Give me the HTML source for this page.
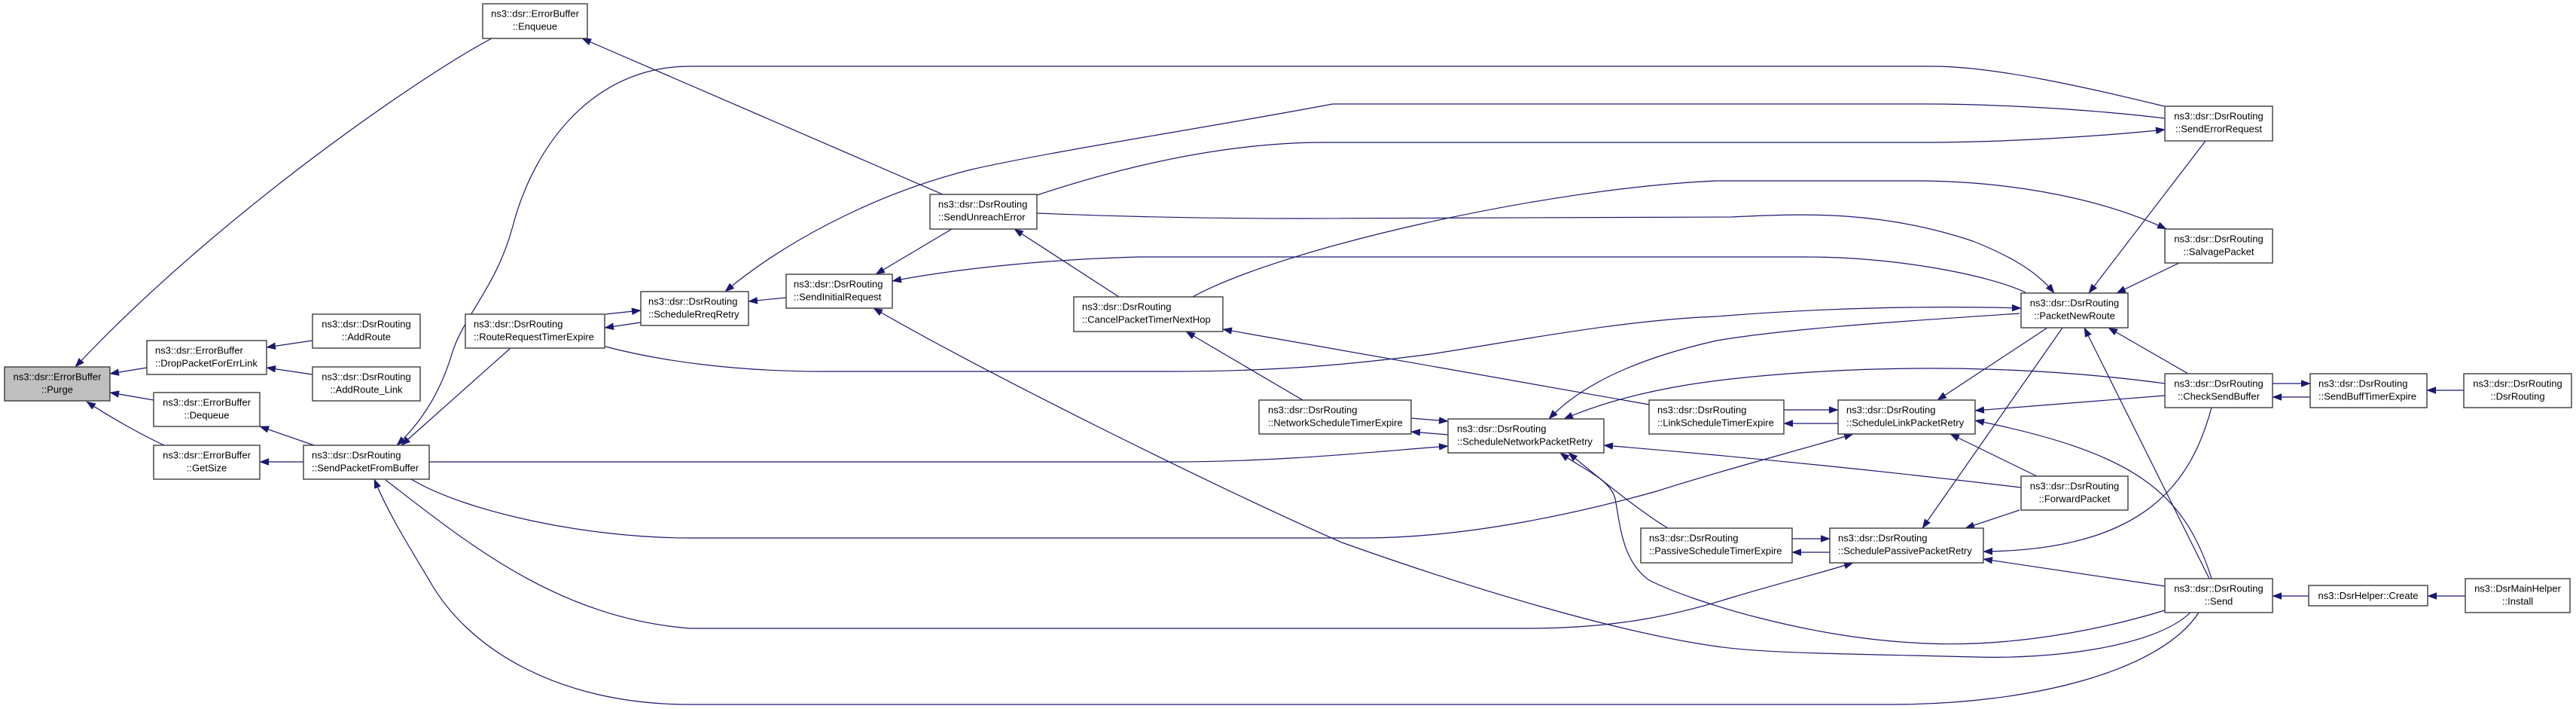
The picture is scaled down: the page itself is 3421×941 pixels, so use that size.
<!DOCTYPE html>
<html>
<head>
<meta charset="utf-8">
<style>
  html, body { margin: 0; padding: 0; background: #ffffff; }
  body { width: 3421px; height: 941px; overflow: hidden; }
  svg { display: block; }
  .n { fill: #ffffff; stroke: #3c3c3c; stroke-width: 1.4; }
  .g { fill: #bfbfbf; stroke: #3c3c3c; stroke-width: 1.4; }
  .e { fill: none; stroke: #191970; stroke-width: 1.2; marker-end: url(#ah); }
  text { font-family: "Liberation Sans", Arial, sans-serif; font-size: 13px; fill: #000; }
  .c { text-anchor: middle; }
  .l { text-anchor: start; }
</style>
</head>
<body>
<svg width="3421" height="941" viewBox="0 0 3421 941" xmlns="http://www.w3.org/2000/svg">
  <defs>
    <marker id="ah" markerUnits="userSpaceOnUse" markerWidth="13" markerHeight="10" refX="12" refY="4.5" orient="auto">
      <path d="M0,0 L12,4.5 L0,9 z" fill="#191970" stroke="#191970" stroke-width="0.5"/>
    </marker>
  </defs>

  <!-- edges -->
  <path class="e" d="M653,51 C560,100 290,285 100,487"/>
  <path class="e" d="M1252,258 L773,51"/>
  <path class="e" d="M195,488 L146,496"/>
  <path class="e" d="M204,531 L146,521"/>
  <path class="e" d="M218,591 C190,578 150,556 115,533"/>
  <path class="e" d="M415,452 L354,461"/>
  <path class="e" d="M415,497 L354,488"/>
  <path class="e" d="M417,591 L345,566"/>
  <path class="e" d="M403,613 L345,613"/>
  <path class="e" d="M2874,141 C2780,118 2650,88 2567,88 L916,88 C790,88 710,190 681,300 C660,380 615,420 600,470 C585,520 560,560 527,591"/>
  <path class="e" d="M2875,157 C2750,142 2620,138 2556,138 L1770,138 C1600,170 1400,200 1290,225 C1150,260 1030,330 963,387"/>
  <path class="e" d="M1377,259 C1480,225 1620,189 1760,189 L2556,189 C2650,189 2780,182 2875,172"/>
  <path class="e" d="M1584,394 C1700,330 2050,250 2280,240 L2544,240 C2650,240 2780,258 2877,304"/>
  <path class="e" d="M1377,283 C1500,288 1600,290 1724,290 L2300,288 C2400,283 2500,280 2620,320 C2670,340 2705,360 2728,389"/>
  <path class="e" d="M2690,388 C2640,365 2520,341 2395,341 L1512,341 C1400,344 1280,355 1185,373"/>
  <path class="e" d="M1486,394 L1347,304"/>
  <path class="e" d="M1264,304 L1163,364"/>
  <path class="e" d="M1044,395 L994,400"/>
  <path class="e" d="M804,417 L851,412"/>
  <path class="e" d="M851,428 L803,435"/>
  <path class="e" d="M678,462 L533,591"/>
  <path class="e" d="M804,460 C880,480 980,493 1094,493 L1552,493 C1700,493 1800,483 1900,470 C2000,455 2150,425 2280,420 C2400,410 2550,405 2684,409"/>
  <path class="e" d="M2682,416 C2550,425 2380,435 2280,452 C2200,470 2110,500 2057,556"/>
  <path class="e" d="M2875,509 C2720,488 2560,485 2420,493 C2300,500 2180,512 2077,556"/>
  <path class="e" d="M1874,555 L1923,559"/>
  <path class="e" d="M1923,577 L1874,573"/>
  <path class="e" d="M570,613 L1552,613 C1700,613 1820,600 1923,592"/>
  <path class="e" d="M2190,537 L1624,437"/>
  <path class="e" d="M1730,531 L1575,440"/>
  <path class="e" d="M2369,544 L2441,544"/>
  <path class="e" d="M2441,562 L2369,562"/>
  <path class="e" d="M2719,435 L2573,531"/>
  <path class="e" d="M2739,435 L2553,701"/>
  <path class="e" d="M2934,768 L2768,435"/>
  <path class="e" d="M2906,496 L2800,435"/>
  <path class="e" d="M2929,187 L2774,389"/>
  <path class="e" d="M2894,349 L2811,389"/>
  <path class="e" d="M2875,525 L2623,545"/>
  <path class="e" d="M3018,509 L3068,509"/>
  <path class="e" d="M3068,527 L3018,527"/>
  <path class="e" d="M3272,518 L3223,518"/>
  <path class="e" d="M2937,768 C2900,650 2830,600 2623,558"/>
  <path class="e" d="M2684,647 C2500,625 2300,605 2130,591"/>
  <path class="e" d="M2705,632 L2590,576"/>
  <path class="e" d="M546,636 C620,680 780,714 916,714 L1810,714 C1950,714 2100,680 2200,652 C2300,620 2400,595 2461,576"/>
  <path class="e" d="M2682,677 L2610,701"/>
  <path class="e" d="M2937,541 C2910,640 2850,730 2634,732"/>
  <path class="e" d="M2380,715 L2430,715"/>
  <path class="e" d="M2430,733 L2380,733"/>
  <path class="e" d="M2875,778 L2634,742"/>
  <path class="e" d="M512,637 C620,720 740,820 916,834 L2029,834 C2150,834 2230,815 2300,793 C2370,772 2420,760 2461,747"/>
  <path class="e" d="M2875,810 C2760,845 2640,860 2540,853 C2400,845 2250,800 2190,770 C2155,745 2152,700 2145,662 C2138,635 2100,622 2072,601"/>
  <path class="e" d="M2215,701 C2180,680 2130,640 2083,601"/>
  <path class="e" d="M2909,813 C2860,860 2720,875 2624,872 C2480,868 2350,868 2280,858 C2150,840 1950,780 1782,720 C1600,640 1300,490 1160,409"/>
  <path class="e" d="M2920,813 C2870,890 2700,935 2510,935 L916,935 C740,935 620,860 570,770 C540,720 515,680 497,636"/>
  <path class="e" d="M3066,791 L3018,791"/>
  <path class="e" d="M3274,791 L3224,791"/>

  <!-- nodes -->
  <rect class="g" x="6" y="487" width="140" height="45"/>
  <text class="c" x="76" y="504.5">ns3::dsr::ErrorBuffer</text>
  <text class="c" x="76" y="521.5">::Purge</text>

  <rect class="n" x="641" y="5" width="139" height="46"/>
  <text class="c" x="710.5" y="22.5">ns3::dsr::ErrorBuffer</text>
  <text class="c" x="710.5" y="39.5">::Enqueue</text>

  <rect class="n" x="195" y="452" width="159" height="45"/>
  <text class="l" x="206" y="469.5">ns3::dsr::ErrorBuffer</text>
  <text class="l" x="206" y="486.5">::DropPacketForErrLink</text>

  <rect class="n" x="204" y="521" width="141" height="45"/>
  <text class="c" x="274.5" y="538.5">ns3::dsr::ErrorBuffer</text>
  <text class="c" x="274.5" y="555.5">::Dequeue</text>

  <rect class="n" x="204" y="591" width="141" height="45"/>
  <text class="c" x="274.5" y="608.5">ns3::dsr::ErrorBuffer</text>
  <text class="c" x="274.5" y="625.5">::GetSize</text>

  <rect class="n" x="415" y="417" width="143" height="45"/>
  <text class="c" x="486.5" y="434.5">ns3::dsr::DsrRouting</text>
  <text class="c" x="486.5" y="451.5">::AddRoute</text>

  <rect class="n" x="415" y="487" width="143" height="45"/>
  <text class="c" x="486.5" y="504.5">ns3::dsr::DsrRouting</text>
  <text class="c" x="486.5" y="521.5">::AddRoute_Link</text>

  <rect class="n" x="403" y="591" width="167" height="45"/>
  <text class="l" x="414" y="608.5">ns3::dsr::DsrRouting</text>
  <text class="l" x="414" y="625.5">::SendPacketFromBuffer</text>

  <rect class="n" x="618" y="417" width="185" height="45"/>
  <text class="l" x="629" y="434.5">ns3::dsr::DsrRouting</text>
  <text class="l" x="629" y="451.5">::RouteRequestTimerExpire</text>

  <rect class="n" x="851" y="387" width="143" height="45"/>
  <text class="l" x="861" y="404.5">ns3::dsr::DsrRouting</text>
  <text class="l" x="861" y="421.5">::ScheduleRreqRetry</text>

  <rect class="n" x="1044" y="364" width="141" height="45"/>
  <text class="l" x="1054" y="381.5">ns3::dsr::DsrRouting</text>
  <text class="l" x="1054" y="398.5">::SendInitialRequest</text>

  <rect class="n" x="1235" y="258" width="142" height="46"/>
  <text class="l" x="1246" y="275.5">ns3::dsr::DsrRouting</text>
  <text class="l" x="1246" y="292.5">::SendUnreachError</text>

  <rect class="n" x="1426" y="394" width="198" height="46"/>
  <text class="l" x="1437" y="411.5">ns3::dsr::DsrRouting</text>
  <text class="l" x="1437" y="428.5">::CancelPacketTimerNextHop</text>

  <rect class="n" x="1672" y="531" width="202" height="45"/>
  <text class="l" x="1684" y="548.5">ns3::dsr::DsrRouting</text>
  <text class="l" x="1684" y="565.5">::NetworkScheduleTimerExpire</text>

  <rect class="n" x="1923" y="556" width="207" height="45"/>
  <text class="l" x="1935" y="573.5">ns3::dsr::DsrRouting</text>
  <text class="l" x="1935" y="590.5">::ScheduleNetworkPacketRetry</text>

  <rect class="n" x="2190" y="531" width="179" height="45"/>
  <text class="l" x="2201" y="548.5">ns3::dsr::DsrRouting</text>
  <text class="l" x="2201" y="565.5">::LinkScheduleTimerExpire</text>

  <rect class="n" x="2179" y="701" width="201" height="46"/>
  <text class="l" x="2190" y="718.5">ns3::dsr::DsrRouting</text>
  <text class="l" x="2190" y="735.5">::PassiveScheduleTimerExpire</text>

  <rect class="n" x="2441" y="531" width="182" height="45"/>
  <text class="l" x="2452" y="548.5">ns3::dsr::DsrRouting</text>
  <text class="l" x="2452" y="565.5">::ScheduleLinkPacketRetry</text>

  <rect class="n" x="2430" y="701" width="204" height="46"/>
  <text class="l" x="2441" y="718.5">ns3::dsr::DsrRouting</text>
  <text class="l" x="2441" y="735.5">::SchedulePassivePacketRetry</text>

  <rect class="n" x="2684" y="389" width="142" height="46"/>
  <text class="c" x="2755" y="406.5">ns3::dsr::DsrRouting</text>
  <text class="c" x="2755" y="423.5">::PacketNewRoute</text>

  <rect class="n" x="2875" y="141" width="143" height="46"/>
  <text class="c" x="2946.5" y="158.5">ns3::dsr::DsrRouting</text>
  <text class="c" x="2946.5" y="175.5">::SendErrorRequest</text>

  <rect class="n" x="2875" y="304" width="143" height="45"/>
  <text class="c" x="2946.5" y="321.5">ns3::dsr::DsrRouting</text>
  <text class="c" x="2946.5" y="338.5">::SalvagePacket</text>

  <rect class="n" x="2875" y="496" width="143" height="45"/>
  <text class="c" x="2946.5" y="513.5">ns3::dsr::DsrRouting</text>
  <text class="c" x="2946.5" y="530.5">::CheckSendBuffer</text>

  <rect class="n" x="2684" y="632" width="142" height="45"/>
  <text class="c" x="2755" y="649.5">ns3::dsr::DsrRouting</text>
  <text class="c" x="2755" y="666.5">::ForwardPacket</text>

  <rect class="n" x="2875" y="768" width="143" height="45"/>
  <text class="c" x="2946.5" y="785.5">ns3::dsr::DsrRouting</text>
  <text class="c" x="2946.5" y="802.5">::Send</text>

  <rect class="n" x="3068" y="496" width="155" height="45"/>
  <text class="l" x="3079" y="513.5">ns3::dsr::DsrRouting</text>
  <text class="l" x="3079" y="530.5">::SendBuffTimerExpire</text>

  <rect class="n" x="3272" y="496" width="143" height="45"/>
  <text class="c" x="3343.5" y="513.5">ns3::dsr::DsrRouting</text>
  <text class="c" x="3343.5" y="530.5">::DsrRouting</text>

  <rect class="n" x="3066" y="777" width="158" height="27"/>
  <text class="c" x="3145" y="795">ns3::DsrHelper::Create</text>

  <rect class="n" x="3274" y="768" width="139" height="45"/>
  <text class="c" x="3343.5" y="785.5">ns3::DsrMainHelper</text>
  <text class="c" x="3343.5" y="802.5">::Install</text>
</svg>
</body>
</html>
